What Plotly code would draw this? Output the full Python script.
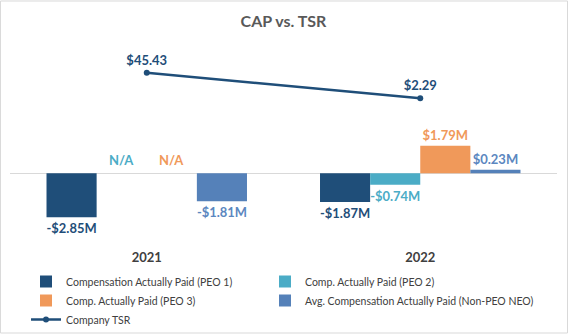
import plotly.graph_objects as go

years = ["2021", "2022"]
peo1 = [-2.85, -1.87]
peo2 = [None, -0.74]
peo3 = [None, 1.79]
neo = [-1.81, 0.23]
tsr = [45.43, 2.29]

names = ["Compensation Actually Paid (PEO 1)", "Comp. Actually Paid (PEO 2)",
         "Comp. Actually Paid (PEO 3)", "Avg. Compensation Actually Paid (Non-PEO NEO)"]
legend_ids = ["legend", "legend2", "legend", "legend2"]
bar_colors = ["#1F4E79", "#4BACC6", "#F0995A", "#5581B9"]
text_colors = ["#1F4E79", "#4BACC6", "#F0995A", "#5B87C0"]
TSR_COLOR = "#1F4E79"
FONT = "Lato"

def fmt(v):
    if v is None:
        return ""
    return ("-$%.2fM" % abs(v)) if v < 0 else ("$%.2fM" % v)

fig = go.Figure()
series = [peo1, peo2, peo3, neo]
for vals, nm, c, tc, lg in zip(series, names, bar_colors, text_colors, legend_ids):
    fig.add_trace(go.Bar(
        x=years, y=vals, name=nm, legend=lg, marker=dict(color=c, line=dict(width=0)),
        text=[fmt(v) for v in vals], textposition="outside",
        textfont=dict(family=FONT, size=13, color=tc, weight="bold"),
        cliponaxis=False, hoverinfo="skip"))

fig.add_trace(go.Scatter(
    x=years, y=tsr, name="Company TSR", yaxis="y2", legend="legend",
    mode="lines+markers+text",
    line=dict(color=TSR_COLOR, width=2.5), marker=dict(color=TSR_COLOR, size=6),
    text=["$%.2f" % v for v in tsr], textposition="top center",
    textfont=dict(family=FONT, size=13, color=TSR_COLOR, weight="bold"),
    cliponaxis=False))

bargap = 0.267
bw = (1 - bargap) / 4
# N/A labels for missing 2021 values
for i, vals in enumerate(series):
    for j, v in enumerate(vals):
        if v is None:
            fig.add_annotation(x=j + (i - 1.5) * bw, y=0, xref="x", yref="y",
                               text="N/A", showarrow=False, yanchor="bottom", yshift=3,
                               font=dict(family=FONT, size=13, color=text_colors[i], weight="bold"))

legend_common = dict(orientation="v", yanchor="top", xanchor="left",
                     font=dict(family=FONT, size=10.5, color="#404040"),
                     traceorder="normal", bgcolor="rgba(0,0,0,0)")

fig.update_layout(
    width=569, height=334,
    margin=dict(l=10, r=12, t=60, b=90, autoexpand=False),
    paper_bgcolor="white", plot_bgcolor="white",
    barmode="group", bargap=bargap, bargroupgap=0,
    title=dict(text="<b>CAP vs. TSR</b>", x=0.5, xref="paper", xanchor="center",
               y=1 - 21 / 334, yanchor="middle",
               font=dict(family=FONT, size=16, color="#595959")),
    xaxis=dict(type="category", range=[-0.5, 1.5], showgrid=False, showline=False,
               ticks="", ticklabelstandoff=4,
               tickfont=dict(family=FONT, size=13, color="#404040", weight="bold")),
    yaxis=dict(range=[-4.59, 7.357], showgrid=False, showticklabels=False, ticks="",
               zeroline=True, zerolinecolor="#D9D9D9", zerolinewidth=1),
    yaxis2=dict(range=[-243.3, 66.95], overlaying="y", side="right", showgrid=False,
                showticklabels=False, ticks="", zeroline=False),
    showlegend=True,
    legend=dict(x=0.0293, y=-(267 - 244) / 184, **legend_common),
    legend2=dict(x=0.4662, y=-(267 - 244) / 184, **legend_common),
    font=dict(family=FONT),
    shapes=[dict(type="rect", xref="paper", yref="paper",
                 x0=-0.0174, x1=1.0192, y0=-0.4837, y1=1.3207,
                 line=dict(color="#D9D9D9", width=1), fillcolor="rgba(0,0,0,0)", layer="below")],
)

fig.write_html("out.html")
